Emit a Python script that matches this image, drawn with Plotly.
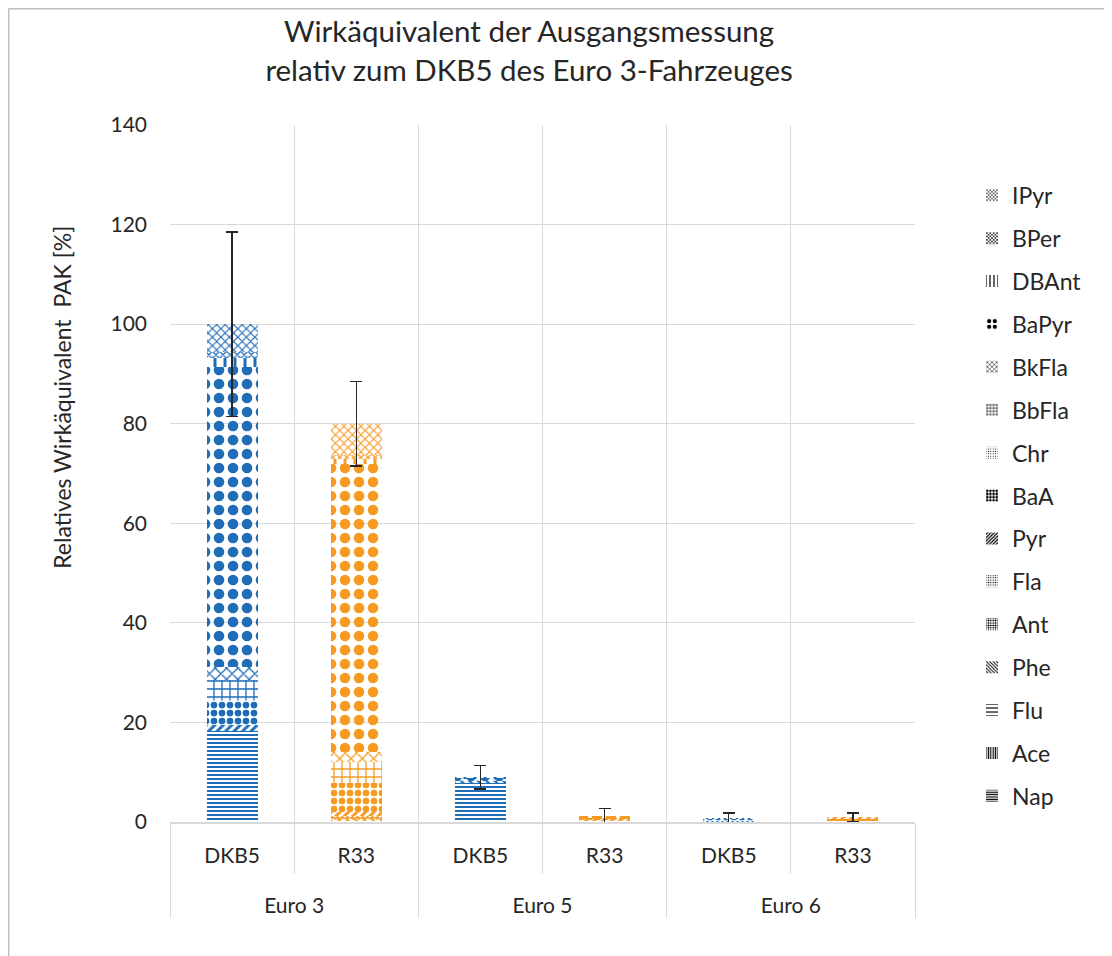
import plotly.graph_objects as go

# ---------------- data ----------------
groups = ["Euro 3", "Euro 3", "Euro 5", "Euro 5", "Euro 6", "Euro 6"]
fuels = ["DKB5", "R33", "DKB5", "R33", "DKB5", "R33"]

series_names = ["Nap", "Ace", "Flu", "Phe", "Ant", "Fla", "Pyr", "BaA", "Chr",
                "BbFla", "BkFla", "BaPyr", "DBAnt", "BPer", "IPyr"]

Nap   = [18.3, 0.3, 7.9, 0.2, 0.0, 0.2]
Ace   = [0.0, 0.0, 0.0, 0.0, 0.0, 0.0]
Flu   = [0.0, 0.0, 0.0, 0.0, 0.0, 0.5]
Phe   = [0.0, 0.3, 0.2, 0.0, 0.0, 0.0]
Ant   = [0.0, 0.4, 0.0, 0.0, 0.0, 0.0]
Fla   = [0.0, 0.3, 0.0, 0.0, 0.3, 0.0]
Pyr   = [1.2, 0.7, 0.0, 0.3, 0.0, 0.2]
BaA   = [5.0, 5.8, 0.3, 0.3, 0.3, 0.0]
Chr   = [0.0, 0.0, 0.0, 0.0, 0.2, 0.0]
BbFla = [4.0, 4.2, 0.0, 0.0, 0.0, 0.0]
BkFla = [2.6, 2.0, 0.0, 0.0, 0.0, 0.0]
BaPyr = [60.3, 58.0, 0.4, 0.4, 0.0, 0.0]
DBAnt = [1.8, 1.0, 0.2, 0.0, 0.0, 0.0]
BPer  = [1.2, 0.8, 0.0, 0.0, 0.0, 0.0]
IPyr  = [5.6, 6.2, 0.0, 0.0, 0.0, 0.0]

error_values = [18.5, 8.5, 2.4, 1.5, 1.0, 0.9]

series_values = [Nap, Ace, Flu, Phe, Ant, Fla, Pyr, BaA, Chr,
                 BbFla, BkFla, BaPyr, DBAnt, BPer, IPyr]

# ---------------- styles ----------------
FUEL_COLORS = {"DKB5": "#1F6CB7", "R33": "#F59B23"}
bar_colors = [FUEL_COLORS[f] for f in fuels]

PATTERNS = {
    "Nap":   dict(shape="-", size=4, solidity=0.5),
    "Ace":   dict(shape="|", size=4, solidity=0.5),
    "Flu":   dict(shape="-", size=10, solidity=0.3),
    "Phe":   dict(shape="\\", size=6, solidity=0.4),
    "Ant":   dict(shape="+", size=6, solidity=0.4),
    "Fla":   dict(shape=".", size=5, solidity=0.25),
    "Pyr":   dict(shape="/", size=6, solidity=0.5),
    "BaA":   dict(shape=".", size=8, solidity=0.55),
    "Chr":   dict(shape=".", size=6, solidity=0.15),
    "BbFla": dict(shape="+", size=8, solidity=0.3),
    "BkFla": dict(shape="x", size=8, solidity=0.3),
    "BaPyr": dict(shape=".", size=14, solidity=0.45),
    "DBAnt": dict(shape="|", size=10, solidity=0.3),
    "BPer":  dict(shape="x", size=5, solidity=0.45),
    "IPyr":  dict(shape="x", size=6, solidity=0.35),
}

FONT = "Lato"
TEXT = "#262626"
GRID = "#D9D9D9"
LABEL_PX = 21      # visible size of category labels
AXIS_FONT = 25     # base size of x tick text (sets the row spacing)

fig = go.Figure()
# category labels at 21px; group labels on the second text row (lower, as in the original)
x = [["<br><span style='font-size:%dpx'>%s</span>" % (LABEL_PX, g) for g in groups],
     ["<span style='font-size:%dpx'>%s</span>" % (LABEL_PX, f) for f in fuels]]
n = len(series_names)
for i, (name, vals) in enumerate(zip(series_names, series_values)):
    p = PATTERNS[name]
    kw = {}
    if i == n - 1:
        kw["error_y"] = dict(type="data", array=error_values, visible=True,
                             color=TEXT, thickness=1.3, width=6)
    fig.add_trace(go.Bar(
        x=x, y=vals, name=name, showlegend=False,
        marker=dict(color=bar_colors, line=dict(width=0),
                    pattern=dict(shape=p["shape"], size=p["size"],
                                 solidity=p["solidity"], bgcolor="white",
                                 fillmode="replace")),
        **kw))

# legend entries (black swatches like the original), top entry = IPyr
for name in reversed(series_names):
    p = PATTERNS[name]
    fig.add_trace(go.Bar(
        x=[[x[0][0]], [x[1][0]]], y=[0], name=name, legendgroup=name,
        showlegend=True, hoverinfo="skip",
        marker=dict(color="#000000", line=dict(width=0),
                    pattern=dict(shape=p["shape"], size=max(3, p["size"] // 2),
                                 solidity=p["solidity"], bgcolor="white",
                                 fillmode="replace"))))

fig.update_layout(
    width=1112, height=956,
    margin=dict(l=162, r=205, t=117, b=142),
    paper_bgcolor="white", plot_bgcolor="white",
    barmode="stack", bargap=0.59,
    font=dict(family=FONT, color=TEXT, size=21),
    title=dict(text="Wirkäquivalent der Ausgangsmessung<br>relativ zum DKB5 des Euro 3-Fahrzeuges",
               x=0.482, xref="paper", xanchor="center",
               y=0.964, yref="container", yanchor="top",
               font=dict(family=FONT, size=29.5, color=TEXT)),
    legend=dict(x=1.0765, xanchor="left", y=0.93, yanchor="top",
                traceorder="grouped", tracegroupgap=10,
                font=dict(family=FONT, size=23, color=TEXT),
                bgcolor="rgba(0,0,0,0)", itemclick=False),
    showlegend=True,
)

fig.update_yaxes(range=[0, 140], dtick=20, showgrid=True, gridcolor=GRID,
                 gridwidth=1, zeroline=False, showline=False,
                 ticks="", ticklabelstandoff=22,
                 tickfont=dict(family=FONT, size=21, color=TEXT))

fig.update_xaxes(tickson="boundaries", showgrid=True, gridcolor=GRID,
                 showline=True, linecolor=GRID, linewidth=1.5,
                 ticks="outside", ticklen=50, tickcolor=GRID,
                 ticklabelstandoff=9,
                 showdividers=True, dividercolor=GRID, dividerwidth=1,
                 tickfont=dict(family=FONT, size=AXIS_FONT, color=TEXT))

# axis title placed like the original
fig.add_annotation(text="Relatives Wirkäquivalent  PAK [%]", textangle=-90,
                   xref="paper", yref="paper", x=-0.145, y=0.61,
                   xanchor="center", yanchor="middle", showarrow=False,
                   font=dict(family=FONT, size=23, color=TEXT))

# chart border (top and left visible)
fig.add_shape(type="line", xref="paper", yref="paper",
              x0=-0.2168, x1=-0.2168, y0=-0.3, y1=1.1671,
              line=dict(color="#BFBFBF", width=2))
fig.add_shape(type="line", xref="paper", yref="paper",
              x0=-0.2168, x1=1.35, y0=1.1671, y1=1.1671,
              line=dict(color="#BFBFBF", width=2))

fig.write_html("out.html")
